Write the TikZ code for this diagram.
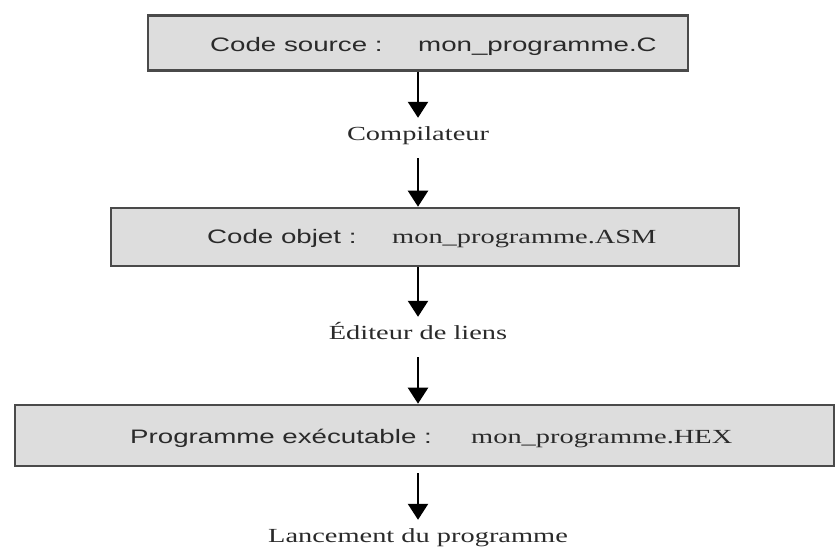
\documentclass[tikz,border=0pt]{standalone}
\usepackage{graphicx}
\usepackage{fontspec}
\setmainfont{Liberation Serif}
\newfontfamily\boxsans{Liberation Sans}
\usetikzlibrary{arrows.meta}

\definecolor{boxfill}{HTML}{DDDDDD}
\definecolor{boxline}{HTML}{4A4A4A}
\definecolor{ink}{HTML}{2A2A2A}

% wide lettering used throughout the chart
\newcommand{\widetext}[1]{\scalebox{1.42}[1]{#1}}

\begin{document}
\begin{tikzpicture}[x=1pt,y=-1pt,
  stage/.style={draw=boxline, line width=2.6pt, fill=boxfill, inner sep=0pt},
  sanstxt/.style={font=\boxsans\fontsize{19.5}{23}\selectfont, text=ink, inner sep=0pt, anchor=base west},
  seriftxt/.style={font=\fontsize{20}{24}\selectfont, text=ink, inner sep=0pt, anchor=base west},
  tool/.style={font=\fontsize{20}{24}\selectfont, text=ink, inner sep=0pt,
               text height=14pt, text depth=4pt, anchor=base},
  flow/.style={draw=black, line width=2.3pt, -{Triangle[width=20pt,length=16pt]}, shorten >=8pt}
]
\useasboundingbox (0,0) rectangle (837,549);

% stages of the build chain
\node[stage, minimum width=540pt, minimum height=55pt] (b1) at (418,43) {};
\node[stage, minimum width=628pt, minimum height=58pt] (b2) at (425,237) {};
\node[stage, minimum width=819pt, minimum height=61pt] (b3) at (424.5,435.5) {};

\node[sanstxt] (t1a) at (210,51) {\widetext{Code source :}};
\node[sanstxt] (t1b) at (418,51) {\widetext{mon\_programme.C}};
\node[sanstxt] (t2a) at (207,243) {\widetext{Code objet :}};
\node[seriftxt] (t2b) at (392,243) {\widetext{mon\_programme.ASM}};
\node[sanstxt] (t3a) at (130,443) {\widetext{Programme exécutable :}};
\node[seriftxt] (t3b) at (471,443) {\widetext{mon\_programme.HEX}};

% tools between the stages
\node[tool] (l1) at (418,140) {\widetext{Compilateur}};
\node[tool] (l2) at (418,339) {\widetext{Éditeur de liens}};
\node[tool] (l3) at (418,542) {\widetext{Lancement du programme}};

\draw[flow] (b1.south) -- (l1.north);
\draw[flow, shorten <=14pt, shorten >=0pt] (l1.south) -- (b2.north -| l1.south);
\draw[flow] (b2.south -| l2.north) -- (l2.north);
\draw[flow, shorten <=14pt, shorten >=0pt] (l2.south) -- (b3.north -| l2.south);
\draw[flow, shorten <=6pt] (b3.south -| l3.north) -- (l3.north);
\end{tikzpicture}
\end{document}
